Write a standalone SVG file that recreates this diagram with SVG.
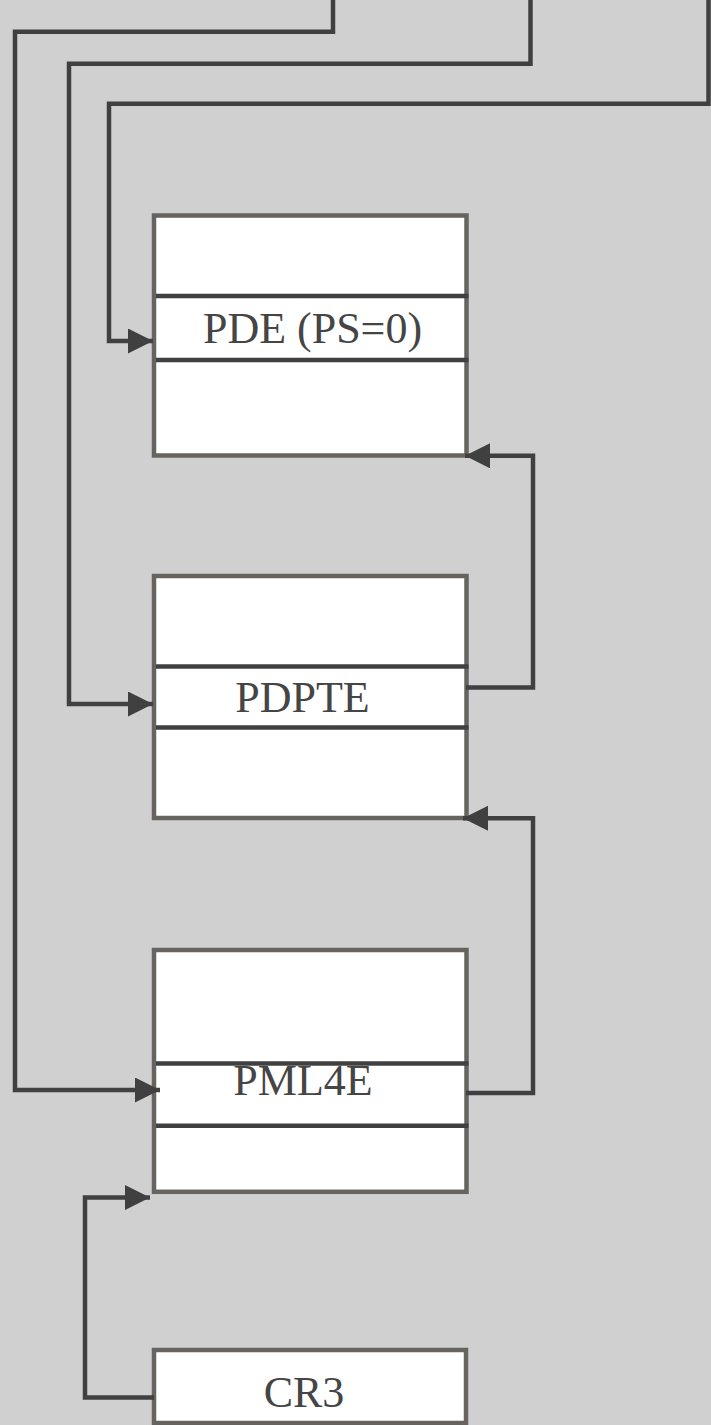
<svg xmlns="http://www.w3.org/2000/svg" width="711" height="1425" viewBox="0 0 711 1425">
  <defs>
    <style>
      .bg { fill: #d0d0d0; }
      .box { fill: #ffffff; stroke: #67635e; stroke-width: 4.5; }
      .div { stroke: #404040; stroke-width: 4.5; fill: none; }
      .lbl { font-family: "Liberation Serif", "Times New Roman", serif; font-size: 44px; fill: #454545; text-anchor: middle; }
      .wire { fill: none; stroke: #404040; stroke-width: 4.5; stroke-linejoin: miter; }
    </style>
    <marker id="arrow" markerUnits="userSpaceOnUse" markerWidth="26" markerHeight="26" refX="25" refY="12.5" orient="auto">
      <path d="M0,0 L25,12.5 L0,25 Z" fill="#404040"/>
    </marker>
  </defs>

  <rect class="bg" x="0" y="0" width="711" height="1425"/>

  <!-- page directory -->
  <g id="pde">
    <rect class="box" x="154" y="215.5" width="312.5" height="240"/>
    <line class="div" x1="156" y1="296" x2="468.5" y2="296"/>
    <line class="div" x1="156" y1="360" x2="468.5" y2="360"/>
    <text class="lbl" x="312.5" y="343">PDE (PS=0)</text>
  </g>

  <!-- page directory pointer table -->
  <g id="pdpte">
    <rect class="box" x="154" y="576" width="312.5" height="242"/>
    <line class="div" x1="156" y1="666.5" x2="468.5" y2="666.5"/>
    <line class="div" x1="156" y1="727.5" x2="468.5" y2="727.5"/>
    <text class="lbl" x="302.5" y="711.5">PDPTE</text>
  </g>

  <!-- PML4 table -->
  <g id="pml4e">
    <rect class="box" x="154" y="950" width="312.5" height="241.8"/>
    <line class="div" x1="156" y1="1063.5" x2="468.5" y2="1063.5"/>
    <line class="div" x1="156" y1="1125.8" x2="468.5" y2="1125.8"/>
    <text class="lbl" x="303" y="1095">PML4E</text>
  </g>

  <!-- control register -->
  <g id="cr3">
    <rect class="box" x="154" y="1350" width="312" height="73"/>
    <text class="lbl" x="304" y="1406.5">CR3</text>
  </g>

  <!-- connectors -->
  <g id="connectors">
    <path class="wire" d="M333,0 V31.8 H15 V1090 H160" marker-end="url(#arrow)"/>
    <path class="wire" d="M530.5,0 V63.8 H69 V704 H153" marker-end="url(#arrow)"/>
    <path class="wire" d="M708.5,0 V103.8 H109 V341 H153" marker-end="url(#arrow)"/>
    <path class="wire" d="M466,687.5 H533 V455.8 H465" marker-end="url(#arrow)"/>
    <path class="wire" d="M466,1093 H533 V818.3 H463" marker-end="url(#arrow)"/>
    <path class="wire" d="M154,1397.5 H85 V1197.5 H150" marker-end="url(#arrow)"/>
  </g>
</svg>
